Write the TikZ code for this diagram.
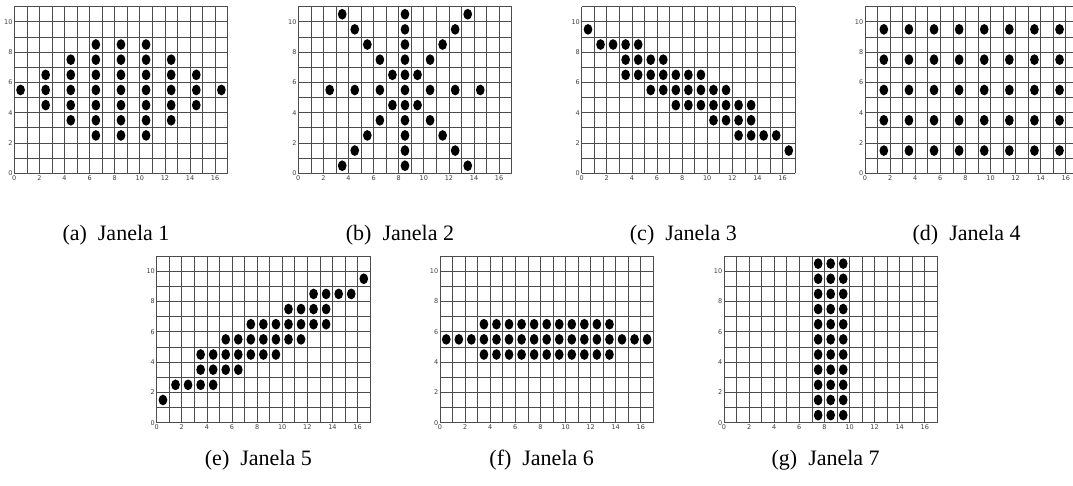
\documentclass[tikz,border=0pt]{standalone}
\usepackage{fontspec}
\setmainfont{Liberation Serif}
\newfontfamily\tickfont{DejaVu Sans}

\tikzset{
  grade/.style={black!70,line width=0.7pt},
  ponto/.style={fill=black},
  rotulo/.style={font=\tickfont\fontsize{6.5}{7}\selectfont,text=black!75,inner sep=1pt},
  legenda/.style={font=\fontsize{22}{24}\selectfont,inner sep=0pt}
}

% #1 nome, #2 canto inferior esquerdo, #3 altura da legenda, #4 legenda, #5 linhas/colunas dos pontos
\newcommand\janela[5]{%
  \begin{scope}[shift={#2},x=12.55pt,y=15.15pt]
    \draw[grade,step=1] (0,0) grid (17,11);
    \foreach \t in {0,2,...,16}
      \node[rotulo,below] (#1x\t) at (\t,-0.08) {\t};
    \foreach \t in {0,2,...,10}
      \node[rotulo,left] (#1y\t) at (-0.05,\t) {\t};
    \foreach \r/\cs in {#5}
      \foreach \c in \cs
        \fill[ponto] (\c+0.5,\r+0.5) circle [x radius=4.35pt,y radius=5.35pt];
    \node[legenda] (#1cap) at (8.1,#3) {#4};
  \end{scope}}

\begin{document}
\begin{tikzpicture}
  \clip (0,0) rectangle (1073pt,485pt);
  \janela{a}{(14.3pt,311.7pt)}{-4.1}{(a)\hspace{0.5em}Janela 1}
    {8/{6,8,10},7/{4,6,...,12},6/{2,4,...,14},5/{0,2,...,16},4/{2,4,...,14},3/{4,6,...,12},2/{6,8,10}}
  \janela{b}{(298.3pt,311.7pt)}{-4.1}{(b)\hspace{0.5em}Janela 2}
    {10/{3,8,13},9/{4,8,12},8/{5,8,11},7/{6,8,10},6/{7,8,9},5/{2,4,...,14},4/{7,8,9},3/{6,8,10},2/{5,8,11},1/{4,8,12},0/{3,8,13}}
  \janela{c}{(581.7pt,311.7pt)}{-4.1}{(c)\hspace{0.5em}Janela 3}
    {9/{0},8/{1,...,4},7/{3,...,6},6/{3,...,9},5/{5,...,11},4/{7,...,13},3/{10,...,13},2/{12,...,15},1/{16}}
  \janela{d}{(865pt,311.7pt)}{-4.1}{(d)\hspace{0.5em}Janela 4}
    {9/{1,3,...,15},7/{1,3,...,15},5/{1,3,...,15},3/{1,3,...,15},1/{1,3,...,15}}
  \janela{e}{(156.7pt,62.3pt)}{-2.5}{(e)\hspace{0.5em}Janela 5}
    {9/{16},8/{12,...,15},7/{10,...,13},6/{7,...,13},5/{5,...,11},4/{3,...,9},3/{3,...,6},2/{1,...,4},1/{0}}
  \janela{f}{(440pt,62.3pt)}{-2.5}{(f)\hspace{0.5em}Janela 6}
    {6/{3,...,13},5/{0,...,16},4/{3,...,13}}
  \janela{g}{(724pt,62.3pt)}{-2.5}{(g)\hspace{0.5em}Janela 7}
    {10/{7,8,9},9/{7,8,9},8/{7,8,9},7/{7,8,9},6/{7,8,9},5/{7,8,9},4/{7,8,9},3/{7,8,9},2/{7,8,9},1/{7,8,9},0/{7,8,9}}
\end{tikzpicture}
\end{document}
